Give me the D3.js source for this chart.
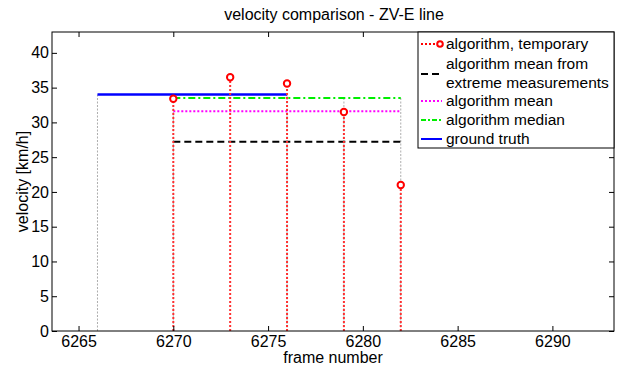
<!DOCTYPE html>
<html>
<head>
<meta charset="utf-8">
<script src="https://cdn.jsdelivr.net/npm/d3@7"></script>
<style>
  body { margin: 0; background: #fff; }
  svg { font-family: "Liberation Sans", Arial, sans-serif; }
</style>
</head>
<body>
<div id="canvas"></div>
<script>
// data
const frames = [6270, 6273, 6276, 6279, 6282];
const temporary = [33.4, 36.5, 35.6, 31.5, 21.0];
const groundTruth = {x0: 6266, x1: 6276, v: 34.0};
const meanExtreme = {x0: 6270, x1: 6282, v: 27.2};
const algMean = {x0: 6270, x1: 6282, v: 31.6};
const algMedian = {x0: 6270, x1: 6282, v: 33.5};
const guideX = [6266, 6276, 6270, 6279, 6282];
const guideY = [34, 34, 33.5, 33.5, 33.5];
const xTicks = [6265, 6270, 6275, 6280, 6285, 6290];
const yTicks = [0, 5, 10, 15, 20, 25, 30, 35, 40];

const W = 617, H = 368;
const M = {t: 32, r: 3, b: 37, l: 52};
const FONT = '16px';

const svg = d3.select('#canvas').append('svg')
  .attr('width', W).attr('height', H);

const x = d3.scaleLinear().domain([6263.6, 6293.25]).range([M.l, W - M.r]);
const y = d3.scaleLinear().domain([0, 43]).range([H - M.b, M.t]);

// title + labels
svg.append('text').attr('x', 334).attr('y', 20).attr('text-anchor', 'middle')
  .style('font-size', FONT).text('velocity comparison - ZV-E line');
svg.append('text').attr('x', 333).attr('y', 363).attr('text-anchor', 'middle')
  .style('font-size', FONT).text('frame number');
svg.append('text').attr('transform', 'translate(28,' + ((M.t + H - M.b) / 2) + ') rotate(-90)')
  .attr('text-anchor', 'middle').style('font-size', FONT).text('velocity [km/h]');

const plot = svg.append('g');

// faint gray guides
plot.selectAll('.guide').data(guideX).enter().append('line')
  .attr('class', 'guide')
  .attr('x1', d => x(d)).attr('x2', d => x(d))
  .attr('y1', y(0)).attr('y2', (d, i) => y(guideY[i]))
  .style('stroke', '#999').style('stroke-width', 0.8).style('stroke-dasharray', '2,1.5');

// horizontal lines
function hline(o, color, dash, width) {
  plot.append('line')
    .attr('x1', x(o.x0)).attr('x2', x(o.x1))
    .attr('y1', y(o.v)).attr('y2', y(o.v))
    .style('stroke', color).style('stroke-width', width)
    .style('stroke-dasharray', dash);
}
hline(meanExtreme, '#000', '7,4', 2);
hline(algMean, '#ff00ff', '2,2', 2);
hline(algMedian, '#00ee00', '7,3,2,3', 2);
hline(groundTruth, '#0000ff', null, 2.5);

// stems
plot.selectAll('.stem').data(frames).enter().append('line')
  .attr('class', 'stem')
  .attr('x1', d => x(d)).attr('x2', d => x(d))
  .attr('y1', y(0)).attr('y2', (d, i) => y(temporary[i]))
  .style('stroke', '#ff3030').style('stroke-width', 2).style('stroke-dasharray', '2,2');

plot.selectAll('.pt').data(frames).enter().append('circle')
  .attr('class', 'pt')
  .attr('cx', d => x(d)).attr('cy', (d, i) => y(temporary[i]))
  .attr('r', 3.2)
  .style('fill', '#fff').style('stroke', '#ff0000').style('stroke-width', 2);

// axes
const ax = svg.append('g');
ax.append('rect').attr('x', M.l).attr('y', M.t)
  .attr('width', W - M.r - M.l).attr('height', H - M.b - M.t)
  .style('fill', 'none').style('stroke', '#000').style('stroke-width', 1);

ax.append('g').attr('transform', 'translate(0,' + (H - M.b) + ')')
  .call(d3.axisBottom(x).tickValues(xTicks).tickFormat(d3.format('d')).tickSize(-5).tickPadding(5));
ax.append('g').attr('transform', 'translate(0,' + M.t + ')')
  .call(d3.axisTop(x).tickValues(xTicks).tickFormat('').tickSize(-5));
ax.append('g').attr('transform', 'translate(' + M.l + ',0)')
  .call(d3.axisLeft(y).tickValues(yTicks).tickSize(-5).tickPadding(3));
ax.append('g').attr('transform', 'translate(' + (W - M.r) + ',0)')
  .call(d3.axisRight(y).tickValues(yTicks).tickFormat('').tickSize(-5));
ax.selectAll('.domain').remove();
ax.selectAll('text').style('font-size', FONT).style('font-family', '"Liberation Sans", Arial, sans-serif').attr('fill', '#000');

// legend
const lg = svg.append('g');
lg.append('rect').attr('x', 418).attr('y', M.t).attr('width', 196).attr('height', 116)
  .style('fill', '#fff').style('stroke', '#000').style('stroke-width', 1);

const legendRows = [
  {label: ['algorithm, temporary'], color: '#ff0000', dash: '2,2', y: 44, marker: true},
  {label: ['algorithm mean from', 'extreme measurements'], color: '#000', dash: '7,4', y: 74},
  {label: ['algorithm mean'], color: '#ff00ff', dash: '2,2', y: 101},
  {label: ['algorithm median'], color: '#00ee00', dash: '5,2,2,2', y: 120},
  {label: ['ground truth'], color: '#0000ff', dash: null, y: 139}
];
legendRows.forEach(r => {
  lg.append('line').attr('x1', 421).attr('x2', 442).attr('y1', r.y).attr('y2', r.y)
    .style('stroke', r.color).style('stroke-width', 2).style('stroke-dasharray', r.dash);
  if (r.marker) lg.append('circle').attr('cx', 440).attr('cy', r.y).attr('r', 2.8)
    .style('fill', '#fff').style('stroke', '#ff0000').style('stroke-width', 2);
  const y0 = r.label.length > 1 ? r.y - 5 : r.y + 5;
  r.label.forEach((t, i) => {
    lg.append('text').attr('x', 446).attr('y', y0 + i * 19)
      .style('font-size', '15.5px').text(t);
  });
});
</script>
</body>
</html>
